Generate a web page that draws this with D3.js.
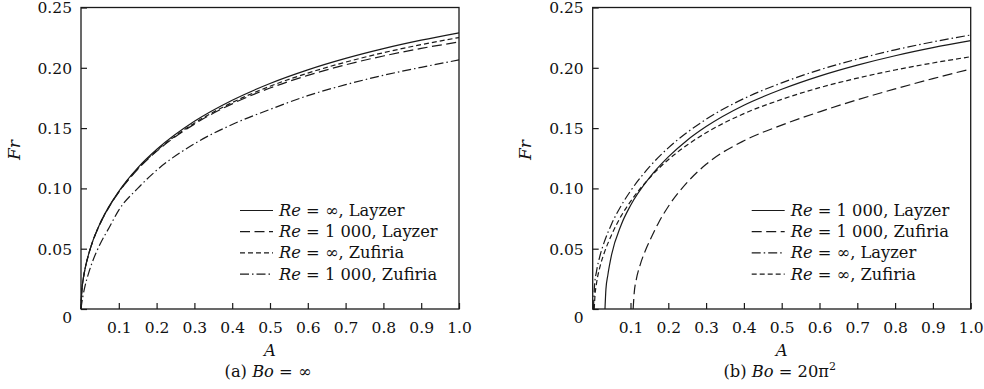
<!DOCTYPE html>
<html><head><meta charset="utf-8">
<script src="https://cdn.jsdelivr.net/npm/d3@7"></script>
<style>
html,body{margin:0;padding:0;background:#fff;}
svg{display:block;}
text{font-family:"DejaVu Serif",serif;fill:#111;}
</style></head>
<body><svg id="c" width="984" height="389"></svg>
<script>
// ---------- data ----------
const yTicks = [0, 0.05, 0.10, 0.15, 0.20, 0.25];
const yTickLabels = ["0", "0.05", "0.10", "0.15", "0.20", "0.25"];
const xTicks = [0.1, 0.2, 0.3, 0.4, 0.5, 0.6, 0.7, 0.8, 0.9, 1.0];
const xTickLabels = ["0.1", "0.2", "0.3", "0.4", "0.5", "0.6", "0.7", "0.8", "0.9", "1.0"];

// (a) Bo = infinity
const aA = [0, 0.002, 0.005, 0.01, 0.02, 0.03, 0.05, 0.075, 0.1, 0.15, 0.2, 0.3, 0.4, 0.5, 0.6, 0.7, 0.8, 0.9, 1.0];
const aLayzerInf  = [0, 0.0145, 0.0229, 0.0322, 0.0453, 0.0553, 0.0707, 0.0855, 0.0976, 0.117, 0.1322, 0.1556, 0.1731, 0.187, 0.1983, 0.2078, 0.2159, 0.2229, 0.229];
const aLayzer1000 = [0, 0.0145, 0.0228, 0.0321, 0.0451, 0.055, 0.0703, 0.0849, 0.0968, 0.1159, 0.1307, 0.1533, 0.1701, 0.1832, 0.1937, 0.2025, 0.2098, 0.2161, 0.2214];
const aZufiriaInf = [0, 0.0145, 0.0229, 0.0322, 0.0452, 0.0552, 0.0705, 0.0852, 0.0971, 0.1163, 0.1312, 0.1541, 0.1712, 0.1847, 0.1956, 0.2047, 0.2125, 0.2192, 0.2251];
const aZufiria1000 = [0, 0.0048, 0.0105, 0.0181, 0.0296, 0.0389, 0.0535, 0.0678, 0.082, 0.1, 0.115, 0.137, 0.153, 0.1655, 0.1769, 0.186, 0.1938, 0.2004, 0.2065];

// (b) Bo = 20 pi^2
const bLayzer1000A  = [0.0325, 0.035, 0.04, 0.05, 0.075, 0.1, 0.15, 0.2, 0.25, 0.3, 0.4, 0.5, 0.6, 0.7, 0.8, 0.9, 1.0];
const bLayzer1000   = [0, 0.0165, 0.028, 0.045, 0.0695, 0.0858, 0.1088, 0.1261, 0.14, 0.1513, 0.169, 0.1822, 0.1931, 0.2022, 0.21, 0.2167, 0.2225];
const bZufiria1000A = [0.107, 0.11, 0.115, 0.125, 0.14, 0.15, 0.175, 0.2, 0.25, 0.3, 0.4, 0.5, 0.6, 0.7, 0.8, 0.9, 1.0];
const bZufiria1000  = [0, 0.014, 0.024, 0.036, 0.049, 0.056, 0.072, 0.085, 0.105, 0.12, 0.1395, 0.1525, 0.1635, 0.1735, 0.1825, 0.191, 0.199];
const bLayzerInfA   = [0.002, 0.005, 0.01, 0.02, 0.03, 0.05, 0.075, 0.1, 0.15, 0.2, 0.25, 0.3, 0.4, 0.5, 0.6, 0.7, 0.8, 0.9, 1.0];
const bLayzerInf    = [0, 0.02, 0.031, 0.045, 0.055, 0.0705, 0.0855, 0.0978, 0.1178, 0.1336, 0.1465, 0.1573, 0.1745, 0.1875, 0.1983, 0.2072, 0.2149, 0.2215, 0.2272];
const bZufiriaInfA  = [0.004, 0.006, 0.01, 0.02, 0.03, 0.05, 0.075, 0.1, 0.15, 0.2, 0.25, 0.3, 0.4, 0.5, 0.6, 0.7, 0.8, 0.9, 1.0];
const bZufiriaInf   = [0, 0.011, 0.021, 0.036, 0.046, 0.0615, 0.077, 0.0891, 0.1086, 0.1238, 0.136, 0.1461, 0.162, 0.1738, 0.1835, 0.1914, 0.1982, 0.204, 0.2092];

const legendA = [["∞", "Layzer"], ["1 000", "Layzer"], ["∞", "Zufiria"], ["1 000", "Zufiria"]];
const legendB = [["1 000", "Layzer"], ["1 000", "Zufiria"], ["∞", "Layzer"], ["∞", "Zufiria"]];

// ---------- styles ----------
const dashes = {solid: null, long: "10,4.5", short: "5,3", dashdot: "9,3,1.5,3"};
const ink = "#1a1a1a";

const svg = d3.select("#c");
const yTop = 7.5, yBottom = 309;
const y = d3.scaleLinear().domain([0, 0.25]).range([yBottom, yTop]);

function panel(x0, x1, series, legend, captionFn, frX) {
  const x = d3.scaleLinear().domain([0, 1]).range([x0, x1]);
  const g = svg.append("g");

  const line = d3.line().x(d => x(d[0])).y(d => y(d[1])).curve(d3.curveMonotoneX);
  series.forEach(s => {
    g.append("path")
      .datum(s.xs.map((v, i) => [v, s.ys[i]]))
      .attr("d", line)
      .attr("fill", "none")
      .attr("stroke", ink)
      .attr("stroke-width", 1.2)
      .attr("stroke-dasharray", dashes[s.style]);
  });

  const yAx = d3.axisLeft(y).tickValues(yTicks).tickSizeInner(-6).tickSizeOuter(0).tickPadding(9)
    .tickFormat((d, i) => yTickLabels[i]);
  const ga = g.append("g").attr("transform", `translate(${x0},0)`).call(yAx);
  ga.select(".domain").remove();
  ga.selectAll("line").attr("stroke", ink).attr("stroke-width", 1.2);
  ga.selectAll("text").attr("font-size", 15.5).attr("fill", "#111").style("font-family", "DejaVu Serif")
    .attr("dy", (d) => d === 0 ? "0.85em" : "0.35em");

  const xAx = d3.axisBottom(x).tickValues(xTicks).tickSizeInner(-6).tickSizeOuter(0).tickPadding(13)
    .tickFormat((d, i) => xTickLabels[i]);
  const gx = g.append("g").attr("transform", `translate(0,${yBottom})`).call(xAx);
  gx.select(".domain").remove();
  gx.selectAll("line").attr("stroke", ink).attr("stroke-width", 1.2);
  gx.selectAll("text").attr("font-size", 15.5).attr("fill", "#111").style("font-family", "DejaVu Serif");

  g.append("rect").attr("x", x0).attr("y", yTop).attr("width", x1 - x0).attr("height", yBottom - yTop)
    .attr("fill", "none").attr("stroke", ink).attr("stroke-width", 1.3);

  const styles = series.map(s => s.style);
  const lg = g.append("g");
  legend.forEach((l, i) => {
    const yy = 210.5 + i * 21.2;
    const lx = x1 - 219;
    lg.append("line").attr("x1", lx).attr("x2", lx + 33).attr("y1", yy).attr("y2", yy)
      .attr("stroke", ink).attr("stroke-width", 1.2).attr("stroke-dasharray", dashes[styles[i]]);
    const t = lg.append("text").attr("x", lx + 39).attr("y", yy + 5.5).attr("font-size", 16.3);
    t.append("tspan").attr("font-style", "italic").text("Re");
    t.append("tspan").text(" = " + l[0] + ", " + l[1]);
  });

  const cx = (x0 + x1) / 2;
  g.append("text").attr("x", cx).attr("y", 356).attr("text-anchor", "middle")
    .attr("font-size", 16.5).attr("font-style", "italic").text("A");
  g.append("text").attr("transform", `translate(${frX},150) rotate(-90)`).attr("text-anchor", "middle")
    .attr("font-size", 17).attr("font-style", "italic").text("Fr");
  const cap = g.append("text").attr("x", cx - 2).attr("y", 377).attr("text-anchor", "middle").attr("font-size", 16.3);
  captionFn(cap);
}

panel(81, 459, [
  {xs: aA, ys: aLayzerInf, style: "solid"},
  {xs: aA, ys: aLayzer1000, style: "long"},
  {xs: aA, ys: aZufiriaInf, style: "short"},
  {xs: aA, ys: aZufiria1000, style: "dashdot"}
], legendA, (t) => {
  t.append("tspan").text("(a) ");
  t.append("tspan").attr("font-style", "italic").text("Bo");
  t.append("tspan").text(" = ∞");
}, 20);

panel(592.7, 970.7, [
  {xs: bLayzer1000A, ys: bLayzer1000, style: "solid"},
  {xs: bZufiria1000A, ys: bZufiria1000, style: "long"},
  {xs: bLayzerInfA, ys: bLayzerInf, style: "dashdot"},
  {xs: bZufiriaInfA, ys: bZufiriaInf, style: "short"}
], legendB, (t) => {
  t.append("tspan").text("(b) ");
  t.append("tspan").attr("font-style", "italic").text("Bo");
  t.append("tspan").text(" = 20π");
  t.append("tspan").attr("font-size", 11).attr("dy", -7).text("2");
}, 531);
</script></body></html>
